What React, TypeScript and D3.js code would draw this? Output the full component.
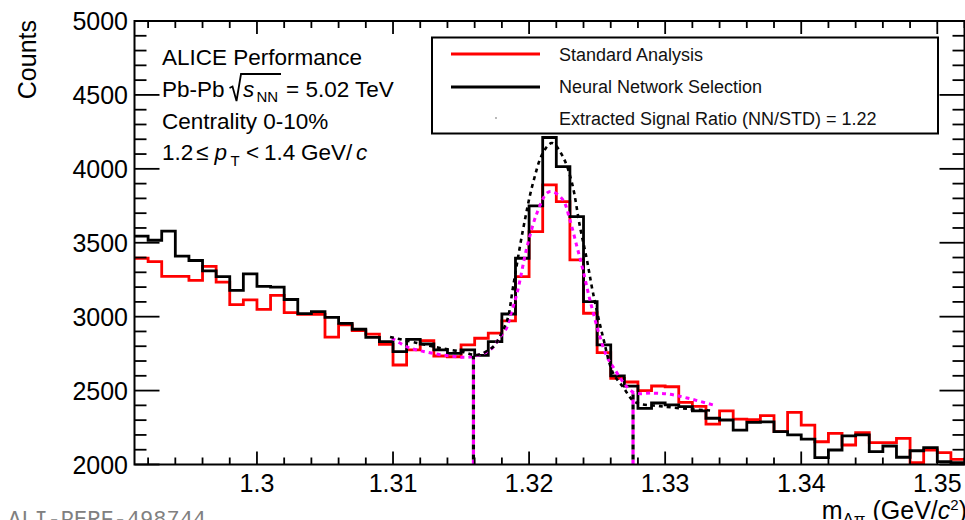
import React from 'react';
import * as d3 from 'd3';

// ---------- data ----------
const binStart = 1.291;
const binWidth = 0.001;

// Standard Analysis (red)
const stdCounts = [
  3395, 3372, 3273, 3273, 3246, 3340, 3234, 3082, 3113, 3050,
  3144, 3028, 3015, 3015, 2862, 2945, 2905, 2882, 2812, 2673,
  2775, 2838, 2734, 2729, 2809, 2854, 2888, 2972, 3271, 3575,
  3891, 3778, 3384, 3023, 2757, 2583, 2558, 2500, 2531, 2526,
  2420, 2393, 2273, 2363, 2307, 2303, 2330, 2222, 2353, 2267,
  2154, 2211, 2132, 2215, 2148, 2148, 2177, 2012, 2098, 2080,
  2035,
];

// Neural Network Selection (black)
const nnCounts = [
  3545, 3517, 3578, 3410, 3380, 3310, 3271, 3178, 3290, 3205,
  3200, 3116, 3020, 3034, 2995, 2955, 2915, 2860, 2831, 2763,
  2847, 2815, 2775, 2752, 2775, 2738, 2831, 3018, 3395, 3749,
  4212, 4015, 3677, 3102, 2809, 2600, 2530, 2380, 2416, 2403,
  2391, 2363, 2313, 2301, 2233, 2285, 2288, 2222, 2200, 2172,
  2046, 2098, 2193, 2200, 2087, 2125, 2049, 2093, 2114, 2019,
  2012,
];

// fit curves
const nnFitX = [1.30978, 1.31176, 1.31345, 1.31514, 1.31617, 1.31735, 1.31771, 1.3184, 1.31882, 1.31955, 1.32029, 1.32102, 1.32168, 1.32249, 1.32315, 1.32374, 1.32425, 1.3247, 1.32543, 1.32617, 1.3269, 1.32778, 1.32962, 1.33183, 1.3333];
const nnFitY = [2863, 2822, 2788, 2761, 2741, 2795, 2842, 2980, 3200, 3587, 3905, 4108, 4175, 4081, 3905, 3608, 3384, 3160, 2863, 2619, 2525, 2423, 2395, 2375, 2365];
const stdFitX = [1.30992, 1.31103, 1.3125, 1.31419, 1.31566, 1.31713, 1.31787, 1.31838, 1.3186, 1.31912, 1.31985, 1.32058, 1.32132, 1.32176, 1.32249, 1.323, 1.32352, 1.32396, 1.32447, 1.32521, 1.32573, 1.32617, 1.32764, 1.32911, 1.33036, 1.33161, 1.33352];
const stdFitY = [2856, 2795, 2760, 2734, 2727, 2775, 2863, 2930, 3000, 3160, 3473, 3701, 3837, 3844, 3790, 3654, 3473, 3316, 3113, 2863, 2727, 2660, 2490, 2483, 2475, 2450, 2403];

const windowEdges = [1.31591, 1.32764];
const windowTops = [2735, 2485];

const yTickValues = [2000, 2500, 3000, 3500, 4000, 4500, 5000];
const yTickLabels = ['2000', '2500', '3000', '3500', '4000', '4500', '5000'];
const xTickValues = [1.3, 1.31, 1.32, 1.33, 1.34, 1.35];
const xTickLabels = ['1.3', '1.31', '1.32', '1.33', '1.34', '1.35'];

const legendLabels = ['Standard Analysis', 'Neural Network Selection', 'Extracted Signal Ratio (NN/STD) = 1.22'];

// ---------- layout ----------
const W = 965;
const H = 520;
const L = 134.5;
const R = 964.5;
const T = 21;
const B = 464.5;
const FONT = "'Liberation Sans', Arial, Helvetica, sans-serif";

export default function App() {
  const x = d3.scaleLinear().domain([1.291, 1.352]).range([L, R]);
  const y = d3.scaleLinear().domain([2000, 5000]).range([B, T]);

  const histPath = (counts: number[]) => {
    const pts: [number, number][] = counts.map((c, i) => [binStart + i * binWidth, c]);
    pts.push([binStart + counts.length * binWidth, counts[counts.length - 1]]);
    return d3.line<[number, number]>().x(d => x(d[0])).y(d => y(d[1])).curve(d3.curveStepAfter)(pts) || '';
  };
  const fitPath = (xs: number[], ys: number[]) =>
    d3.line<number>().x((_, i) => x(xs[i])).y((_, i) => y(ys[i])).curve(d3.curveCatmullRom.alpha(0.5))(xs) || '';

  const yMinor = d3.range(2000, 5001, 100);
  const xMinor = d3.range(0, 31).map(i => 1.292 + i * 0.002);
  const isMajorY = (v: number) => v % 500 === 0;
  const isMajorX = (v: number) => Math.abs(Math.round(v * 100) - v * 100) < 1e-6;

  return (
    <svg width={W} height={H} style={{ position: 'absolute', left: 0, top: 0, background: '#fff' }} fontFamily={FONT}>
      <rect x={0} y={0} width={W} height={H} fill="#fff" />
      <defs>
        <clipPath id="plot">
          <rect x={L} y={T} width={R - L} height={B - T} />
        </clipPath>
      </defs>

      {/* legend box (behind the data, as the peak touches it) */}
      <rect x={432} y={37.5} width={506} height={96} fill="#fff" stroke="#000" strokeWidth={2} />

      <g clipPath="url(#plot)" fill="none">
        <path d={histPath(stdCounts)} stroke="#ff0000" strokeWidth={2.8} />
        <path d={histPath(nnCounts)} stroke="#000" strokeWidth={2.8} />
        <path d={fitPath(stdFitX, stdFitY)} stroke="#ff00ff" strokeWidth={3} strokeDasharray="4 4" />
        <path d={fitPath(nnFitX, nnFitY)} stroke="#000" strokeWidth={2.6} strokeDasharray="4 4" />
        {windowEdges.map((v, i) => (
          <g key={i}>
            <line x1={x(v)} x2={x(v)} y1={B} y2={y(windowTops[i])} stroke="#ff00ff" strokeWidth={3.2} strokeDasharray="5 5" />
            <line x1={x(v)} x2={x(v)} y1={B} y2={y(windowTops[i])} stroke="#000" strokeWidth={3.2} strokeDasharray="5 5" strokeDashoffset={5} />
          </g>
        ))}
      </g>

      {/* frame */}
      <rect x={L} y={T} width={R - L} height={B - T} fill="none" stroke="#000" strokeWidth={2} />

      {/* y ticks */}
      {yMinor.map(v => {
        const len = isMajorY(v) ? 25 : 12;
        return (
          <g key={'y' + v} stroke="#000" strokeWidth={1.8}>
            <line x1={L} x2={L + len} y1={y(v)} y2={y(v)} />
            <line x1={R} x2={R - len} y1={y(v)} y2={y(v)} />
          </g>
        );
      })}
      {/* x ticks */}
      {xMinor.map((v, i) => {
        const len = isMajorX(v) ? 13 : 7;
        return (
          <g key={'x' + i} stroke="#000" strokeWidth={1.8}>
            <line x1={x(v)} x2={x(v)} y1={B} y2={B - len} />
            <line x1={x(v)} x2={x(v)} y1={T} y2={T + len} />
          </g>
        );
      })}

      {yTickValues.map((v, i) => (
        <text key={'yl' + v} x={128} y={y(v)} dy="0.36em" textAnchor="end" fontSize={25} fill="#000">{yTickLabels[i]}</text>
      ))}
      {xTickValues.map((v, i) => (
        <text key={'xl' + v} x={x(v)} y={492} textAnchor="middle" fontSize={25} fill="#000">{xTickLabels[i]}</text>
      ))}

      {/* axis titles */}
      <text transform="translate(36,20) rotate(-90)" textAnchor="end" fontSize={25} fill="#000">Counts</text>
      <text x={967} y={519} textAnchor="end" fontSize={25} fill="#000">
        <tspan>m</tspan>
        <tspan fontSize={17} dy={6}>Λπ</tspan>
        <tspan dy={-6}> (GeV/</tspan>
        <tspan fontStyle="italic">c</tspan>
        <tspan fontSize={15} dy={-9}>2</tspan>
        <tspan dy={9}>)</tspan>
      </text>

      <text x={8} y={526} fontSize={22} fill="#808080" fontFamily="'Liberation Mono', 'DejaVu Sans Mono', monospace">ALI-PERF-498744</text>

      {/* ALICE labels */}
      <g fontSize={22.5} fill="#000">
        <text x={162} y={65}>ALICE Performance</text>
        <text x={162} y={97}>Pb-Pb</text>
        <path d="M229.5,88 L232.5,86.5 L236.5,101 L241,74 H281" fill="none" stroke="#000" strokeWidth={1.8} />
        <text x={243} y={97} fontStyle="italic">s</text>
        <text x={256.5} y={102} fontSize={15}>NN</text>
        <text x={286} y={97}>= 5.02 TeV</text>
        <text x={162} y={129}>Centrality 0-10%</text>
        <text x={162} y={160}>1.2</text>
        <text x={196} y={160}>≤</text>
        <text x={214.5} y={160} fontStyle="italic">p</text>
        <text x={230.5} y={166} fontSize={15}>T</text>
        <text x={246} y={160}>&lt;</text>
        <text x={264} y={160}>1.4</text>
        <text x={301} y={160}>GeV/</text>
        <text x={356} y={160} fontStyle="italic">c</text>
      </g>

      {/* legend entries */}
      <line x1={451} x2={540} y1={54} y2={54} stroke="#ff0000" strokeWidth={2.8} />
      <line x1={451} x2={540} y1={87} y2={87} stroke="#000" strokeWidth={2.8} />
      <circle cx={496} cy={118} r={0.9} fill="#999" />
      {legendLabels.map((t, i) => (
        <text key={t} x={559} y={60.5 + i * 32} fontSize={18} fill="#111">{t}</text>
      ))}
    </svg>
  );
}
